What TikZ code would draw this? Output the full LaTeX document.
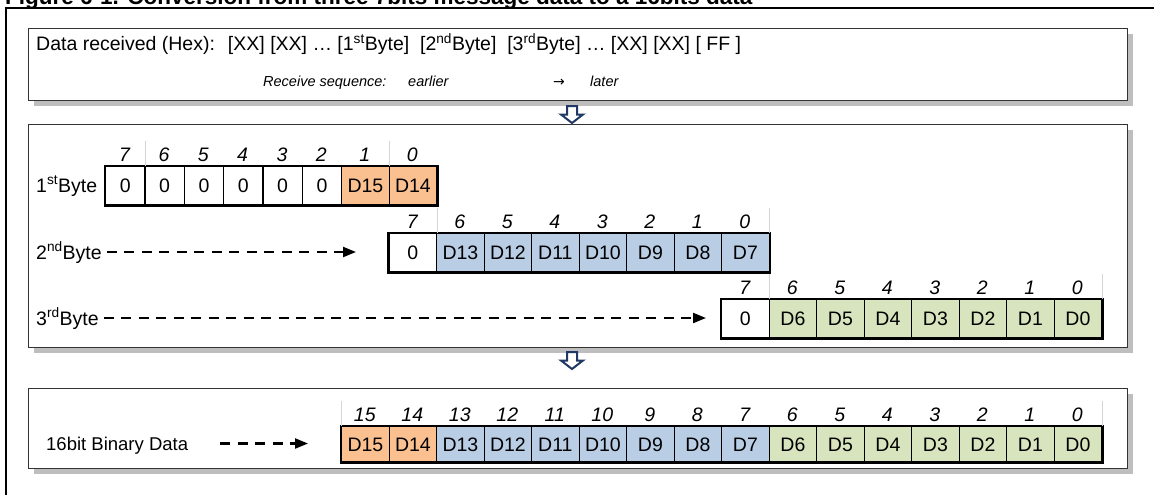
\documentclass[tikz,border=0pt]{standalone}
\usepackage{fontspec}
\setmainfont{Liberation Sans}
\newfontfamily\symfont{DejaVu Sans}
\usetikzlibrary{arrows.meta,shadows}

\definecolor{cellorange}{HTML}{FAC090}
\definecolor{cellblue}{HTML}{B9CDE5}
\definecolor{cellgreen}{HTML}{D7E4BD}
\definecolor{navyline}{HTML}{1F3864}
\definecolor{shadowgray}{HTML}{BEBEBE}
\definecolor{panelline}{HTML}{333333}
\definecolor{tickgray}{HTML}{D4D4D4}

\newcommand\txtsize{\fontsize{19.5pt}{23pt}\selectfont}
\newcommand\smallsize{\fontsize{14.5pt}{17pt}\selectfont}

\begin{document}
\begin{tikzpicture}[x=1pt,y=-1pt,
  panel/.style={draw=panelline, line width=1.2pt, fill=white, anchor=north west,
    inner sep=0pt, drop shadow={shadow xshift=5.5pt, shadow yshift=-5.5pt,
    fill=shadowgray, opacity=1}},
  cell/.style={draw=black, line width=1.3pt, anchor=north west, inner sep=0pt,
    font=\txtsize, text height=14pt, text depth=0pt},
  rowframe/.style={draw=black, line width=2.4pt},
  bitlab/.style={anchor=base, font=\txtsize\itshape, inner sep=0pt},
  rowlab/.style={anchor=west, font=\txtsize, inner sep=0pt, text height=14pt, text depth=0pt},
  tick/.style={draw=tickgray, line width=1pt},
  dasharrow/.style={draw=black, line width=2.2pt, dash pattern=on 10pt off 7.5pt,
    -{Triangle[length=13pt,width=10pt]}},
  hollowdown/.style={draw=navyline, line width=2pt, fill=white, line join=miter},
  frameline/.style={draw=black, line width=1.6pt}
]
\useasboundingbox (0,0) rectangle (1154,495);

% heading, cut by the page edge
\begin{scope}
  \clip (0,0) rectangle (1154,495);
  \node[anchor=base west, inner sep=0pt, font=\fontsize{22.5pt}{26pt}\selectfont\bfseries]
    (title) at (5,4.5) {Figure 6-1. Conversion from three 7bits message data to a 16bits data};
\end{scope}

% open frame around the figure
\draw[frameline] (6,495) -- (6,8) -- (1154,8);

% three panels
\node[panel, minimum width=1099pt, minimum height=72pt]  (box1) at (28,28) {};
\node[panel, minimum width=1099pt, minimum height=223pt] (box2) at (28,124) {};
\node[panel, minimum width=1099pt, minimum height=80pt]  (box3) at (28,388) {};

% received data line
\node[anchor=base west, inner sep=0pt, font=\txtsize] (rx) at (36,51)
  {Data received (Hex):\hspace{13pt}[XX] [XX] … [1\textsuperscript{st}Byte]\ \ [2\textsuperscript{nd}Byte]\ \ [3\textsuperscript{rd}Byte] … [XX] [XX] [ FF ]};
\node[anchor=base west, inner sep=0pt, font=\smallsize\itshape] (seq) at (263,87) {Receive sequence:};
\node[anchor=base west, inner sep=0pt, font=\smallsize\itshape] (early) at (408,87) {earlier};
\node[anchor=base west, inner sep=0pt, font=\symfont\fontsize{14pt}{17pt}\selectfont] (seqarrow) at (553,87) {→};
\node[anchor=base west, inner sep=0pt, font=\smallsize\itshape] (late) at (590,87) {later};

% hollow arrows between panels
\coordinate (down1) at (572,106);
\coordinate (down2) at (572,352);
\foreach \c in {down1,down2}{
  \begin{scope}[shift={(\c)}]
    \draw[hollowdown] (-5,0) -- (5,0) -- (5,8.5) -- (11,8.5) -- (0,17) -- (-11,8.5) -- (-5,8.5) -- cycle;
  \end{scope}
}

% ---------- 1st byte ----------
\node[rowlab] (lab1) at (36,185) {1\textsuperscript{st}Byte};
\foreach \i in {0,...,5}{
  \pgfmathtruncatemacro\bit{7-\i}
  \node[cell, minimum width=39.33pt, minimum height=38pt] (r1c\i) at ({105+39.33*\i},166) {0};
  \node[bitlab] (r1b\i) at ({105+39.33*\i+19.67},161) {\bit};
}
\node[cell, fill=cellorange, minimum width=47.5pt, minimum height=38pt] (r1c6) at (341,166) {D15};
\node[cell, fill=cellorange, minimum width=47.5pt, minimum height=38pt] (r1c7) at (388.5,166) {D14};
\node[bitlab] (r1b6) at (364.75,161) {1};
\node[bitlab] (r1b7) at (412.25,161) {0};
\draw[rowframe] (r1c0.north west) rectangle (r1c7.south east);
\draw[tick] (r1c0.north east) -- ++(0,-25);
\draw[tick] (r1c6.north east) -- ++(0,-25);

% ---------- 2nd byte ----------
\node[rowlab] (lab2) at (36,252) {2\textsuperscript{nd}Byte};
\foreach \lab/\col [count=\n from 0] in {0/white,D13/cellblue,D12/cellblue,D11/cellblue,D10/cellblue,D9/cellblue,D8/cellblue,D7/cellblue}{
  \pgfmathtruncatemacro\bit{7-\n}
  \node[cell, fill=\col, minimum width=47.5pt, minimum height=38pt] (r2c\n) at ({388.5+47.5*\n},233) {\lab};
  \node[bitlab] (r2b\n) at ({388.5+47.5*\n+23.75},228) {\bit};
}
\draw[rowframe] (r2c0.north west) rectangle (r2c7.south east);
\draw[tick] (r2c0.north east) -- ++(0,-25);
\draw[tick] (r2c7.north east) -- ++(0,-25);
\coordinate (tip2) at (356,252);
\draw[dasharrow] ([xshift=5pt]lab2.east) -- (tip2);

% ---------- 3rd byte ----------
\node[rowlab] (lab3) at (36,318) {3\textsuperscript{rd}Byte};
\foreach \lab/\col [count=\n from 0] in {0/white,D6/cellgreen,D5/cellgreen,D4/cellgreen,D3/cellgreen,D2/cellgreen,D1/cellgreen,D0/cellgreen}{
  \pgfmathtruncatemacro\bit{7-\n}
  \node[cell, fill=\col, minimum width=47.5pt, minimum height=38pt] (r3c\n) at ({721+47.5*\n},299) {\lab};
  \node[bitlab] (r3b\n) at ({721+47.5*\n+23.75},294) {\bit};
}
\draw[rowframe] (r3c0.north west) rectangle (r3c7.south east);
\draw[tick] (r3c0.north east) -- ++(0,-25);
\draw[tick] (r3c7.north east) -- ++(0,-25);
\coordinate (tip3) at (706,318);
\draw[dasharrow] ([xshift=5pt]lab3.east) -- (tip3);

% ---------- 16 bit result ----------
\node[rowlab, font=\fontsize{18.5pt}{22pt}\selectfont] (lab4) at (46,443.5) {16bit Binary Data};
\foreach \lab/\col [count=\n from 0] in {D15/cellorange,D14/cellorange,D13/cellblue,D12/cellblue,D11/cellblue,D10/cellblue,D9/cellblue,D8/cellblue,D7/cellblue,D6/cellgreen,D5/cellgreen,D4/cellgreen,D3/cellgreen,D2/cellgreen,D1/cellgreen,D0/cellgreen}{
  \pgfmathtruncatemacro\bit{15-\n}
  \node[cell, fill=\col, minimum width=47.5pt, minimum height=35pt] (r4c\n) at ({341+47.5*\n},426) {\lab};
  \node[bitlab] (r4b\n) at ({341+47.5*\n+23.75},421) {\bit};
}
\draw[rowframe] (r4c0.north west) rectangle (r4c15.south east);
\draw[tick] (r4c0.north west) -- ++(0,-25);
\draw[tick] (r4c15.north east) -- ++(0,-25);
\coordinate (tip4) at (308,443.5);
\draw[dasharrow] ([xshift=32pt]lab4.east) -- (tip4);

\end{tikzpicture}
\end{document}
